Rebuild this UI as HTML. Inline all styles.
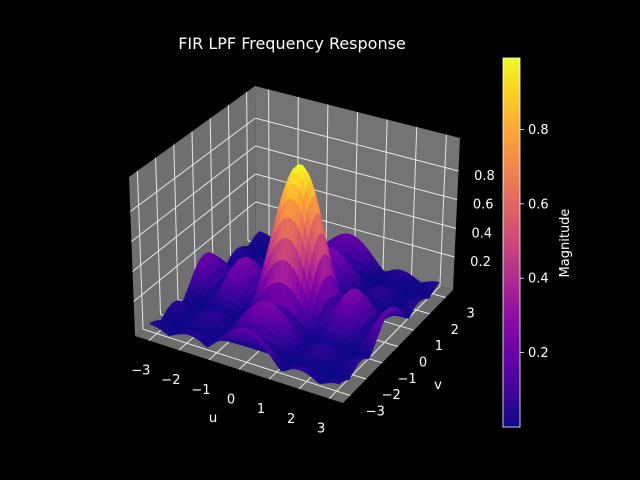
<!DOCTYPE html>
<html><head><meta charset="utf-8">
<style>
html,body{margin:0;padding:0;background:#000;}
svg{display:block;font-family:"DejaVu Sans","Liberation Sans",sans-serif;}
</style></head>
<body>
<svg id="chart" width="640" height="480" viewBox="0 0 640 480">
<rect x="0" y="0" width="640" height="480" fill="#000"/>
<text x="292" y="49" fill="#fff" font-size="16" text-anchor="middle">FIR LPF Frequency Response</text>
<g id="panes"></g>
<g id="grid"></g>
<g id="surface"></g>
<g id="ticks"></g>
<defs>
<linearGradient id="plasma" x1="0" y1="1" x2="0" y2="0">
<stop offset="0" stop-color="#0d0887"/><stop offset="0.1" stop-color="#41049d"/><stop offset="0.2" stop-color="#6a00a8"/><stop offset="0.3" stop-color="#8f0da4"/><stop offset="0.4" stop-color="#b12a90"/><stop offset="0.5" stop-color="#cc4778"/><stop offset="0.6" stop-color="#e16462"/><stop offset="0.7" stop-color="#f2844b"/><stop offset="0.8" stop-color="#fca636"/><stop offset="0.9" stop-color="#fcce25"/><stop offset="1" stop-color="#f0f921"/>
</linearGradient>
</defs>
<rect x="503" y="58" width="17" height="369" fill="url(#plasma)" stroke="#fff" stroke-width="0.8"/>
<g id="cbticks"></g>
<text transform="translate(569,243) rotate(-90)" fill="#fff" font-size="13" text-anchor="middle">Magnitude</text>
<text x="213" y="422" fill="#fff" font-size="13.5" text-anchor="middle">u</text>
<text x="438" y="389" fill="#fff" font-size="13.5" text-anchor="middle">v</text>
</svg>
<script>
// ---- data ----
const filterTaps = [1, 1, 1, 1, 1];
const uTicks = [-3, -2, -1, 0, 1, 2, 3];
const vTicks = [-3, -2, -1, 0, 1, 2, 3];
const zTicks = [0.2, 0.4, 0.6, 0.8];
const cbTicks = [0.2, 0.4, 0.6, 0.8];
const gridCount = 50;

const NS = "http://www.w3.org/2000/svg";
const uMin = -3.46, uMax = 3.46, vMin = -3.46, vMax = 3.46, zMin = -0.03, zMax = 1.03;
const F = {a0b0:[135,336], a1b0:[343,403], a1b1:[453,290], a0b1:[256,234]};
const V = {a0b0:[-6,-159], a1b0:[12,-163], a1b1:[7,-152], a0b1:[-1,-148]};
function bil(o, a, b, i){
  return o.a0b0[i]*(1-a)*(1-b) + o.a1b0[i]*a*(1-b) + o.a1b1[i]*a*b + o.a0b1[i]*(1-a)*b;
}
function P(u, v, z){
  const a = (u-uMin)/(uMax-uMin), b = (v-vMin)/(vMax-vMin), c = (z-zMin)/(zMax-zMin);
  return [bil(F,a,b,0) + c*bil(V,a,b,0), bil(F,a,b,1) + c*bil(V,a,b,1)];
}
function el(tag, attrs, parent){
  const e = document.createElementNS(NS, tag);
  for (const k in attrs) e.setAttribute(k, attrs[k]);
  parent.appendChild(e); return e;
}
function pts(arr){ return arr.map(p => p[0].toFixed(1)+","+p[1].toFixed(1)).join(" "); }

const panes = document.getElementById("panes");
const floor = el("polygon", {points: pts([P(uMin,vMin,zMin),P(uMax,vMin,zMin),P(uMax,vMax,zMin),P(uMin,vMax,zMin)]), fill:"#6c6c6c"}, panes);


const lp = el("polygon", {points: pts([P(uMin,vMin,zMin),P(uMin,vMax,zMin),P(uMin,vMax,zMax),P(uMin,vMin,zMax)]), fill:"#6f6f6f"}, panes);


const rp = el("polygon", {points: pts([P(uMin,vMax,zMin),P(uMax,vMax,zMin),P(uMax,vMax,zMax),P(uMin,vMax,zMax)]), fill:"#747474"}, panes);



const grid = document.getElementById("grid");
function gline(p1, p2, name){
  const l = el("line", {x1:p1[0],y1:p1[1],x2:p2[0],y2:p2[1],stroke:"#e6e6e6","stroke-width":1}, grid);
  
  
}
uTicks.forEach(u => { gline(P(u,vMin,zMin),P(u,vMax,zMin),'u-gridline-floor'); gline(P(u,vMax,zMin),P(u,vMax,zMax),'u-gridline-back'); });
vTicks.forEach(v => { gline(P(uMin,v,zMin),P(uMax,v,zMin),'v-gridline-floor'); gline(P(uMin,v,zMin),P(uMin,v,zMax),'v-gridline-side'); });
zTicks.forEach(z => { gline(P(uMin,vMin,z),P(uMin,vMax,z),'z-gridline-side'); gline(P(uMin,vMax,z),P(uMax,vMax,z),'z-gridline-back'); });

function H1(w){
  let re=0, im=0, s=0;
  const c = (filterTaps.length-1)/2;
  filterTaps.forEach((h,n)=>{ re += h*Math.cos(w*(n-c)); im -= h*Math.sin(w*(n-c)); s += h; });
  return Math.hypot(re,im)/Math.abs(s);
}
const us = [], Z = [];
for (let i=0;i<gridCount;i++) us.push(-Math.PI + 2*Math.PI*i/(gridCount-1));
let zlo=Infinity, zhi=-Infinity;
for (let i=0;i<gridCount;i++){ Z.push([]); for (let j=0;j<gridCount;j++){ const m=H1(us[i])*H1(us[j]); Z[i].push(m); zlo=Math.min(zlo,m); zhi=Math.max(zhi,m);} }

const stops = [[13,8,135],[65,4,157],[106,0,168],[143,13,164],[177,42,144],[204,71,120],[225,100,98],[242,132,75],[252,166,54],[252,206,37],[240,249,33]];
function plasma(t){
  t=Math.max(0,Math.min(1,t))*10; const k=Math.min(9,Math.floor(t)), f=t-k;
  const c = stops[k].map((x,i)=>Math.round(x+(stops[k+1][i]-x)*f));
  return "rgb("+c.join(",")+")";
}
const quads=[];
for (let i=0;i<gridCount-1;i++) for (let j=0;j<gridCount-1;j++){
  const avg=(Z[i][j]+Z[i+1][j]+Z[i][j+1]+Z[i+1][j+1])/4;
  const a=(i+0.5)/gridCount, b=(j+0.5)/gridCount;
  quads.push({i,j,avg,depth:(1-a)+b});
}
quads.sort((p,q)=>q.depth-p.depth);
const surf = document.getElementById("surface");
quads.forEach(q=>{
  const {i,j}=q;
  const col = plasma((q.avg-zlo)/(zhi-zlo));
  const poly = el("polygon",{points:pts([P(us[i],us[j],Z[i][j]),P(us[i+1],us[j],Z[i+1][j]),P(us[i+1],us[j+1],Z[i+1][j+1]),P(us[i],us[j+1],Z[i][j+1])]),fill:col,stroke:col,"stroke-width":0.6}, surf);
  
  
});

const tk = document.getElementById("ticks");
function label(x,y,txt,name,anchor){
  const t = el("text",{x:x,y:y,fill:"#fff","font-size":13,"text-anchor":anchor||"middle"}, tk);
  t.textContent = txt;
  
  
}
function fmt(v){ return (v<0?"\u2212":"")+Math.abs(v); }
uTicks.forEach(u=>{ const p=P(u,vMin,zMin); label(p[0]-8,p[1]+34,fmt(u),'u-tick-label'); });
vTicks.forEach(v=>{ const p=P(uMax,v,zMin); label(p[0]+25,p[1]+20,fmt(v),'v-tick-label'); });
zTicks.forEach(z=>{ const p=P(uMax,vMax,z); label(p[0]+26,p[1]+9,z.toFixed(1),'z-tick-label'); });

const cbt = document.getElementById("cbticks");
cbTicks.forEach(v=>{
  const y = 427 - (v - zlo)/(zhi-zlo)*369;
  const l = el("line",{x1:520,y1:y,x2:524,y2:y,stroke:"#fff","stroke-width":0.8}, cbt);
  
  
  const t = el("text",{x:528,y:y+4.5,fill:"#fff","font-size":13}, cbt);
  t.textContent = v.toFixed(1);
  
  
});
</script>
</body></html>
